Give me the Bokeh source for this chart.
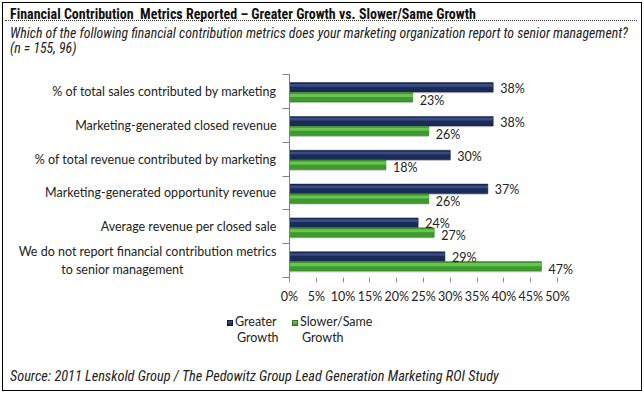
from bokeh.plotting import figure
from bokeh.models import (Range1d, FixedTicker, PrintfTickFormatter, LabelSet,
                          ColumnDataSource, Div)
from bokeh.layouts import column
from bokeh.core.properties import value
from bokeh.embed import file_html
from bokeh.resources import INLINE

title = "Financial Contribution&nbsp; Metrics Reported \u2013 Greater Growth vs. Slower/Same Growth"
subtitle = ["Which of the following financial contribution metrics does your marketing organization report to senior management?",
            "(n = 155, 96)"]
source_note = "Source: 2011 Lenskold Group / The Pedowitz Group Lead Generation Marketing ROI Study"

categories = [
    "% of total sales contributed by marketing",
    "Marketing-generated closed revenue",
    "% of total revenue contributed by marketing",
    "Marketing-generated opportunity revenue",
    "Average revenue per closed sale",
    "We do not report financial contribution metrics\nto senior management",
]
greater = [38, 38, 30, 37, 24, 29]
slower = [23, 26, 18, 26, 27, 47]
x_ticks = [0, 5, 10, 15, 20, 25, 30, 35, 40, 45, 50]
series_names = [("Greater", "Growth"), ("Slower/Same", "Growth")]

W = 638
FL = 286
FONT = "Lato"
NB = "\u00a0"

n = len(categories)
centers = [n - 0.5 - i for i in range(n)]
y_blue = [c + 0.12 for c in centers]
y_green = [c - 0.17 for c in centers]
bh = 0.28

def axis_label(txt):
    # second line of a wrapped label sits roughly centred under the first, as in the source
    lines = txt.split("\n")
    if len(lines) == 2:
        return lines[0] + "\n" + lines[1] + NB * 29
    return txt

p = figure(width=W, height=244, output_backend="svg", toolbar_location=None,
           x_range=Range1d(0, 56.9), y_range=Range1d(0, n),
           min_border_left=FL, min_border_right=W - FL - 305,
           min_border_top=10, min_border_bottom=31,
           background_fill_color="white", border_fill_color="white", margin=0)
p.outline_line_color = None
p.grid.grid_line_color = None

NAVY, NAVY_HI = "#1b2b57", "#3e5590"
GREEN, GREEN_HI = "#3d9a2c", "#78cc5e"

src_b = ColumnDataSource(dict(y=y_blue, v=greater, t=[f"{v}%" for v in greater]))
src_g = ColumnDataSource(dict(y=y_green, v=slower, t=[f"{v}%" for v in slower]))

# shadows
p.hbar(y=[y - 0.04 for y in y_blue], left=0, right=greater, height=bh, fill_color="#d9d9d9", line_color=None)
p.hbar(y=[y - 0.04 for y in y_green], left=0, right=slower, height=bh, fill_color="#d9d9d9", line_color=None)
p.hbar(y="y", left=0, right="v", height=bh, source=src_b, fill_color=NAVY, line_color="#101a38", line_width=0.5)
p.hbar(y="y", left=0, right="v", height=bh, source=src_g, fill_color=GREEN, line_color="#2a7a1c", line_width=0.5)
# highlights
p.hbar(y=[y + 0.06 for y in y_blue], left=0, right=greater, height=0.08, fill_color=NAVY_HI, line_color=None, fill_alpha=0.8)
p.hbar(y=[y + 0.05 for y in y_green], left=0, right=slower, height=0.09, fill_color=GREEN_HI, line_color=None, fill_alpha=0.8)

lab_kw = dict(text_font=value(FONT), text_font_size=value("12.5px"), text_color="#222222",
              text_baseline="middle")
p.add_layout(LabelSet(x="v", y="y", text="t", source=src_b, x_offset=7, y_offset=-1, **lab_kw))
p.add_layout(LabelSet(x="v", y="y", text="t", source=src_g, x_offset=7, y_offset=-3, **lab_kw))

# x axis
p.xaxis.ticker = FixedTicker(ticks=x_ticks, minor_ticks=[])
p.xaxis.formatter = PrintfTickFormatter(format="%d%%")
p.xaxis.axis_line_color = None
p.xaxis.major_tick_line_color = "#909090"
p.xaxis.major_tick_in = 0
p.xaxis.major_tick_out = 5
p.xaxis.major_label_standoff = 6
p.xaxis.major_label_text_font = FONT
p.xaxis.major_label_text_font_size = "12.5px"
p.xaxis.major_label_text_color = "#222222"

# y axis
p.yaxis.ticker = FixedTicker(ticks=centers, minor_ticks=list(range(n + 1)))
p.yaxis.major_label_overrides = {c: axis_label(categories[i]) for i, c in enumerate(centers)}
p.yaxis.axis_line_color = "#808080"
p.yaxis.major_tick_line_color = None
p.yaxis.minor_tick_line_color = "#808080"
p.yaxis.minor_tick_in = 0
p.yaxis.minor_tick_out = 7
p.yaxis.major_label_standoff = 6
p.yaxis.major_label_text_font = FONT
p.yaxis.major_label_text_font_size = "12.5px"
p.yaxis.major_label_text_color = "#222222"

# legend (HTML strip under the axis)
def legend_item(left, c_hi, c_lo, c_line, names):
    return (f'<div style="position:absolute;left:{left}px;top:6px;font-family:{FONT};font-size:12.5px;'
            f'line-height:16px;color:#222;white-space:nowrap;width:120px">'
            f'<span style="display:inline-block;width:6px;height:6px;margin-right:2px;'
            f'background:linear-gradient({c_hi},{c_lo});border:1px solid {c_line}"></span>{names[0]}<br>'
            f'<span style="padding-left:10px">{names[1]}</span></div>')

legend_div = Div(text=(
    f'<div style="position:relative;width:{W}px;height:48px">'
    + legend_item(224, NAVY_HI, NAVY, "#101a38", series_names[0])
    + legend_item(289, GREEN_HI, GREEN, "#2a7a1c", series_names[1])
    + '</div>'), width=W, height=48, margin=0)

NARROW = "'Liberation Sans Narrow','Arial Narrow','Roboto Condensed',sans-serif"
top = Div(text=(
    f'<div style="font-family:{NARROW};font-weight:bold;font-size:14px;line-height:16px;'
    f'padding:3px 0 0 5px;height:18px;border-bottom:1px dotted #333;width:{W - 6}px;margin-left:2px;color:#111">{title}</div>'
    f'<div style="font-family:{NARROW};font-style:italic;font-size:13.8px;line-height:15px;'
    f'padding:5px 0 0 7px;color:#222">{subtitle[0]}<br>{subtitle[1]}</div>'),
    width=W, height=61, margin=0)
bottom = Div(text=(
    f'<div style="font-family:{NARROW};font-style:italic;font-size:14.3px;line-height:15px;'
    f'padding:13px 0 0 7px;color:#222">{source_note}</div>'),
    width=W, height=34, margin=0)

layout = column(top, p, legend_div, bottom, spacing=0, margin=2,
                styles={"border": "1px solid #000", "background": "white"})

open("out.html", "w").write(file_html(layout, INLINE))
